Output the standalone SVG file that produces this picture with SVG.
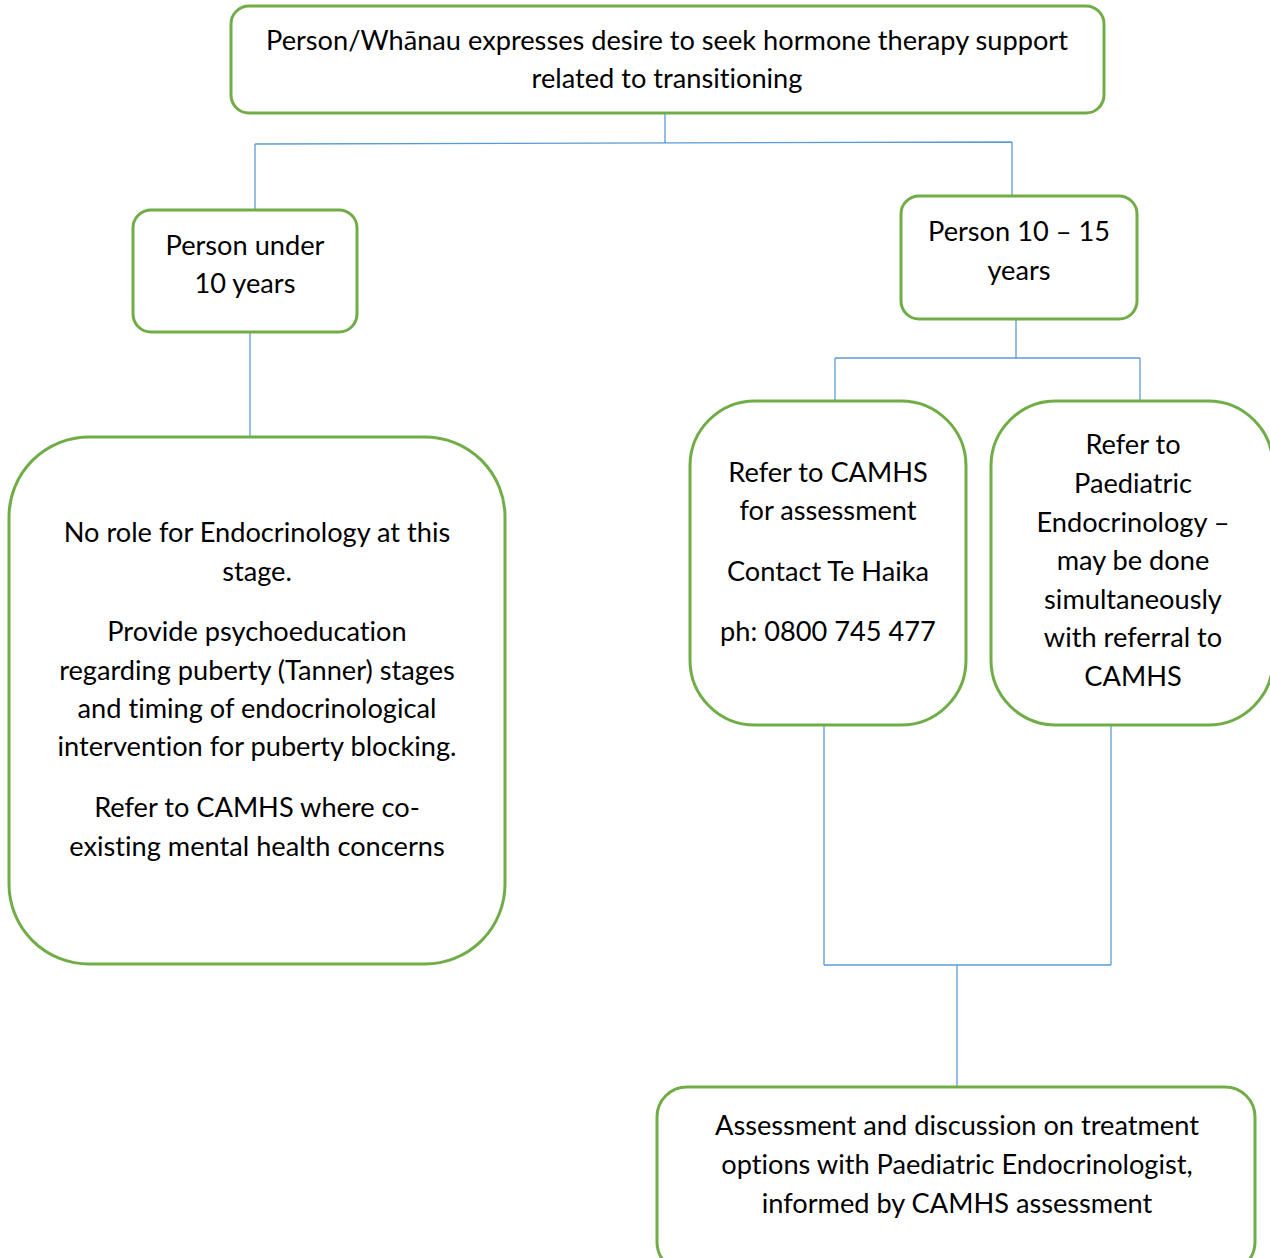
<svg xmlns="http://www.w3.org/2000/svg" width="1270" height="1258" viewBox="0 0 1270 1258">
<style>
.box{fill:#fff;stroke:#70AD47;stroke-width:3}
.c{stroke:#5B9BD5;stroke-width:1.3;fill:none}
text{font-family:Lato,"Liberation Sans",sans-serif;font-size:27.2px;fill:#000;text-anchor:middle;font-variant-ligatures:none}
</style>
<rect width="1270" height="1258" fill="#fff"/>
<g id="connectors">
<path class="c" d="M665,113V143M255,144L1012,142M255,144V210M1012,142V196"/>
<path class="c" d="M250,332V437"/>
<path class="c" d="M1016,319V358M835,358H1140M835,358V401M1140,358V401"/>
<path class="c" d="M824,725V965M1111,725V965M824,965H1111M957,965V1086"/>
</g>
<g id="top">
<rect class="box" x="231" y="6" width="873" height="107" rx="18"/>
<text x="667" y="50">Person/Whānau expresses desire to seek hormone therapy support</text>
<text x="667" y="88">related to transitioning</text>
</g>
<g id="under10">
<rect class="box" x="133" y="210" width="224" height="122" rx="18"/>
<text x="245" y="255">Person under</text>
<text x="245" y="293">10 years</text>
</g>
<g id="age10to15">
<rect class="box" x="901" y="196" width="236" height="123" rx="18"/>
<text x="1019" y="241">Person 10 – 15</text>
<text x="1019" y="280">years</text>
</g>
<g id="norole">
<rect class="box" x="9" y="437" width="496" height="527" rx="80"/>
<text x="257" y="542">No role for Endocrinology at this</text>
<text x="257" y="581">stage.</text>
<text x="257" y="641">Provide psychoeducation</text>
<text x="257" y="680">regarding puberty (Tanner) stages</text>
<text x="257" y="718">and timing of endocrinological</text>
<text x="257" y="756">intervention for puberty blocking.</text>
<text x="257" y="817">Refer to CAMHS where co-</text>
<text x="257" y="856">existing mental health concerns</text>
</g>
<g id="camhs">
<rect class="box" x="690" y="401" width="276" height="324" rx="65"/>
<text x="828" y="482">Refer to CAMHS</text>
<text x="828" y="520">for assessment</text>
<text x="828" y="581">Contact Te Haika</text>
<text x="828" y="641">ph: 0800 745 477</text>
</g>
<g id="paed">
<rect class="box" x="991" y="401" width="282" height="324" rx="65"/>
<text x="1133" y="454">Refer to</text>
<text x="1133" y="493">Paediatric</text>
<text x="1133" y="532">Endocrinology –</text>
<text x="1133" y="570">may be done</text>
<text x="1133" y="609">simultaneously</text>
<text x="1133" y="647">with referral to</text>
<text x="1133" y="686">CAMHS</text>
</g>
<g id="assessment">
<rect class="box" x="657" y="1087" width="598" height="185" rx="30"/>
<text x="957" y="1135">Assessment and discussion on treatment</text>
<text x="957" y="1174">options with Paediatric Endocrinologist,</text>
<text x="957" y="1213">informed by CAMHS assessment</text>
</g>
</svg>
